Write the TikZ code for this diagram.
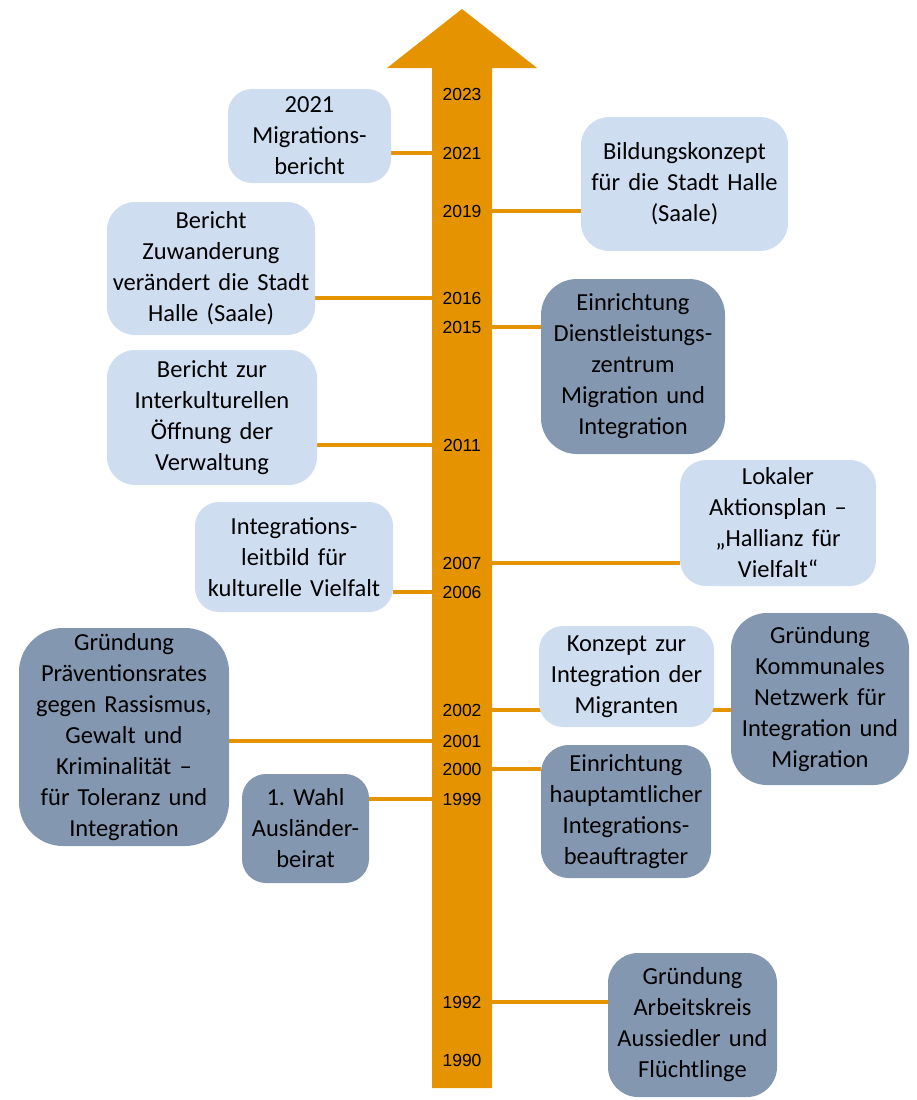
\documentclass[tikz,border=0pt]{standalone}
\usepackage{fontspec}
\setmainfont{Carlito}
\newfontfamily\yearfont{Liberation Sans}
\usetikzlibrary{backgrounds}
\definecolor{orangeA}{HTML}{E59400}
\definecolor{lightb}{HTML}{CFDDF0}
\definecolor{darkb}{HTML}{8497B0}
\frenchspacing
\tikzset{
  box/.style={align=center, inner sep=0pt, font=\fontsize{24.5}{31}\selectfont, rounded corners=24pt},
  light/.style={box, fill=lightb},
  dark/.style={box, fill=darkb},
  yr/.style={font={\yearfont\fontsize{17.5}{20}\selectfont}, inner sep=0pt},
  conn/.style={draw=orangeA, line width=4pt}
}
\begin{document}
\begin{tikzpicture}[x=1pt,y=-1pt]
\useasboundingbox (0,0) rectangle (917,1100);
% arrow
\fill[orangeA] (432,1088) -- (432,68) -- (387,68) -- (462,9) -- (537,68) -- (492,68) -- (492,1088) -- cycle;
\coordinate (sL) at (432,500);
\coordinate (sR) at (492,500);
% years
\node[yr] (y2023) at (462,94) {2023};
\node[yr] (y2021) at (462,153) {2021};
\node[yr] (y2019) at (462,211) {2019};
\node[yr] (y2016) at (462,298) {2016};
\node[yr] (y2015) at (462,327) {2015};
\node[yr] (y2011) at (462,445) {2011};
\node[yr] (y2007) at (462,563) {2007};
\node[yr] (y2006) at (462,592) {2006};
\node[yr] (y2002) at (462,710) {2002};
\node[yr] (y2001) at (462,741) {2001};
\node[yr] (y2000) at (462,769) {2000};
\node[yr] (y1999) at (462,799) {1999};
\node[yr] (y1992) at (462,1002) {1992};
\node[yr] (y1990) at (462,1060) {1990};
% boxes
\node[light, text width=163pt, minimum height=94pt] (mig) at (309.5,136) {2021\\Migrations-\\bericht};
\node[light, text width=207pt, minimum height=134pt, rounded corners=28pt] (bild) at (684.5,184) {Bildungskonzept\\für die Stadt Halle\\(Saale)};
\node[light, text width=208pt, minimum height=133pt, rounded corners=28pt] (zuw) at (211,268.5) {Bericht\\Zuwanderung\\verändert die Stadt\\Halle (Saale)};
\node[dark, text width=184pt, minimum height=175pt, rounded corners=36pt] (dlz) at (633,366.5) {Einrichtung\\Dienstleistungs-\\zentrum\\Migration und\\Integration};
\node[light, text width=210pt, minimum height=135pt, rounded corners=28pt] (ikoe) at (212,417.5) {Bericht zur\\Interkulturellen\\Öffnung der\\Verwaltung};
\node[light, text width=196pt, minimum height=126pt, rounded corners=26pt] (lap) at (778,523) {Lokaler\\Aktionsplan --\\„Hallianz für\\Vielfalt“};
\node[light, text width=198pt, minimum height=110pt] (leit) at (294,557) {Integrations-\\leitbild für\\kulturelle Vielfalt};
\node[dark, text width=210pt, minimum height=218pt, rounded corners=44pt] (prae) at (124,737) {Gründung\\Präventionsrates\\gegen Rassismus,\\Gewalt und\\Kriminalität --\\für Toleranz und\\Integration};
\node[light, text width=175pt, minimum height=101pt] (konz) at (626.5,676.5) {Konzept zur\\Integration der\\Migranten};
\node[dark, text width=178pt, minimum height=172pt, rounded corners=36pt] (netz) at (820,699) {Gründung\\Kommunales\\Netzwerk für\\Integration und\\Migration};
\node[dark, text width=170pt, minimum height=133pt, rounded corners=28pt] (haupt) at (626,811.5) {Einrichtung\\hauptamtlicher\\Integrations-\\beauftragter};
\node[dark, text width=127pt, minimum height=109pt] (wahl) at (305.5,828.5) {1. Wahl\\Ausländer-\\beirat};
\node[dark, text width=169pt, minimum height=144pt, rounded corners=30pt] (ak) at (692.5,1025) {Gründung\\Arbeitskreis\\Aussiedler und\\Flüchtlinge};
% connectors
\begin{scope}[on background layer]
\draw[conn] (mig.east |- y2021) -- (sL |- y2021);
\draw[conn] (sR |- y2019) -- (bild.west |- y2019);
\draw[conn] (zuw.east |- y2016) -- (sL |- y2016);
\draw[conn] (sR |- y2015) -- (dlz.west |- y2015);
\draw[conn] (ikoe.east |- y2011) -- (sL |- y2011);
\draw[conn] (sR |- y2007) -- (lap.west |- y2007);
\draw[conn] (leit.east |- y2006) -- (sL |- y2006);
\draw[conn] (sR |- y2002) -- (netz.west |- y2002);
\draw[conn] (prae.east |- y2001) -- (sL |- y2001);
\draw[conn] (sR |- y2000) -- (haupt.west |- y2000);
\draw[conn] (wahl.east |- y1999) -- (sL |- y1999);
\draw[conn] (sR |- y1992) -- (ak.west |- y1992);
\end{scope}
\end{tikzpicture}
\end{document}
